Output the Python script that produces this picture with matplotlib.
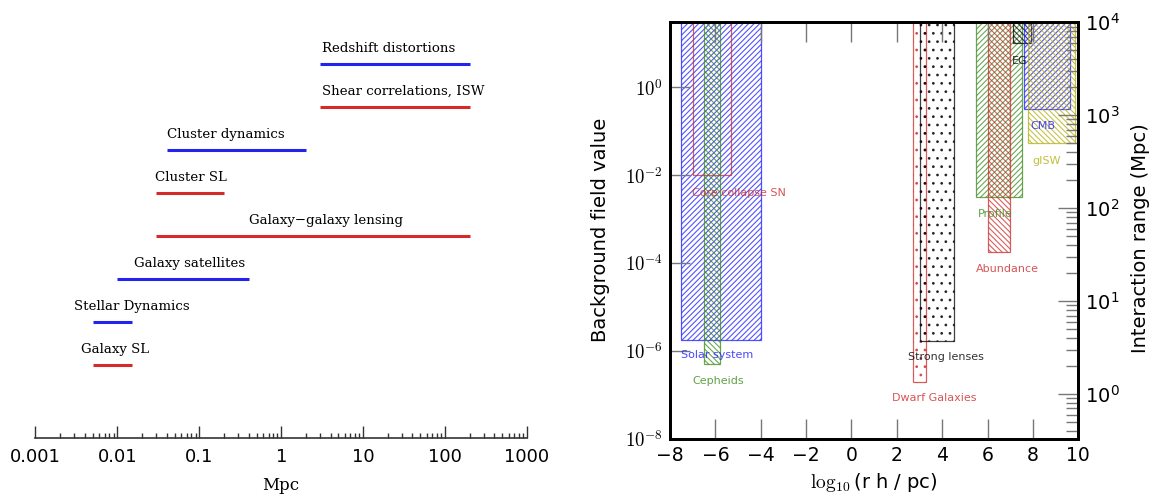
import numpy as np
import matplotlib
matplotlib.use('Agg')
import matplotlib.pyplot as plt
from matplotlib.patches import Rectangle
from matplotlib.ticker import FixedLocator, LogLocator, NullFormatter, NullLocator

# left panel: scales probed (Mpc)
probe_names = ['Galaxy SL', 'Stellar Dynamics', 'Galaxy satellites',
               'Galaxy\u2212galaxy lensing', 'Cluster SL', 'Cluster dynamics',
               'Shear correlations, ISW', 'Redshift distortions']
probe_kind = ['lensing', 'dynamics', 'dynamics', 'lensing',
              'lensing', 'dynamics', 'lensing', 'dynamics']
probe_lo = [0.005, 0.005, 0.01, 0.03, 0.03, 0.04, 3, 3]
probe_hi = [0.015, 0.015, 0.4, 200, 0.2, 2, 200, 200]
label_at = [0.0036, 0.0030, 0.016, 0.40, 0.0285, 0.040, 3.15, 3.16]
mpc_ticks = [0.001, 0.01, 0.1, 1, 10, 100, 1000]
mpc_ticklabels = ['0.001', '0.01', '0.1', '1', '10', '100', '1000']

# right panel: constraints, log10(r h / pc) range and lower field value
test_names = ['Solar system', 'Core collapse SN', 'Cepheids', 'Dwarf Galaxies',
              'Strong lenses', 'Profile', 'Abundance', 'EG', 'CMB', 'gISW']
test_x0 = [-7.5, -7.0, -6.5, 2.7, 3.0, 5.5, 6.0, 7.1, 7.6, 7.8]
test_x1 = [-4.0, -5.3, -5.8, 3.3, 4.5, 7.5, 7.0, 7.9, 9.65, 9.85]
test_logf = [-5.75, -2.0, -6.3, -6.7, -5.77, -2.5, -3.75, 1.0, -0.5, -1.26]
# where the names sit (x, log10 field)
name_x = [-7.5, -7.03, -7.03, 1.78, 2.48, 5.57, 5.48, 7.07, 7.9, 7.99]
name_logf = [-6.09, -2.4, -6.69, -7.07, -6.15, -2.88, -4.13, 0.59, -0.89, -1.67]

kind_color = {'lensing': '#d42a2a', 'dynamics': '#2323f0'}
palette = {'b': '#1a1aff', 'r': '#cc2a2a', 'g': '#3a8a1a', 'k': '#000000',
           'y': '#b4ae10'}
test_color = ['b', 'r', 'g', 'r', 'k', 'g', 'r', 'k', 'b', 'y']
fwd = '/' * 6
bwd = '\\' * 6
test_hatch = [fwd, None, bwd, '..', '..', fwd, bwd, bwd, fwd, bwd]

plt.rcParams['hatch.linewidth'] = 0.8

W, H = 1152, 494
fig = plt.figure(figsize=(W / 100, H / 100), dpi=100)

# ---- left panel ----
axl = fig.add_axes([35.4 / W, (H - 438) / H, 491.6 / W, 438 / H])
axl.set_xscale('log')
axl.set_xlim(1e-3, 1e3)
axl.set_ylim(-1.70, 8.49)
for s in ['top', 'left', 'right']:
    axl.spines[s].set_visible(False)
axl.spines['bottom'].set_linewidth(1.2)
axl.spines['bottom'].set_color('#333333')
axl.yaxis.set_major_locator(NullLocator())
axl.xaxis.set_major_locator(FixedLocator(mpc_ticks))
axl.xaxis.set_minor_locator(LogLocator(base=10, subs=np.arange(2, 10)))
axl.xaxis.set_minor_formatter(NullFormatter())
axl.set_xticklabels(mpc_ticklabels)
axl.tick_params(axis='x', which='major', direction='in', length=8.6, width=1,
                color='#333333', labelsize=13, pad=7)
axl.tick_params(axis='x', which='minor', direction='in', length=3.6, width=1,
                color='#333333')
axl.patch.set_visible(False)

for k, name in enumerate(probe_names):
    c = kind_color[probe_kind[k]]
    axl.plot([probe_lo[k], probe_hi[k]], [k, k], color=c, lw=2.2,
             solid_capstyle='butt')
    axl.text(label_at[k], k + 0.37, name, ha='left', va='center',
             fontsize=9.6, family='DejaVu Serif')

fig.text(281 / W, 1 - 485 / H, 'Mpc', ha='center', va='center',
         fontsize=12, family='DejaVu Serif')

# ---- right panel ----
ax = fig.add_axes([670 / W, (H - 438.7) / H, 408.3 / W, 416.4 / H])
ax.set_yscale('log')
ax.set_xlim(-8, 10)
ax.set_ylim(1e-8, 10 ** 1.48)

for i, name in enumerate(test_names):
    y0 = 10 ** test_logf[i]
    c = palette[test_color[i]]
    r = Rectangle((test_x0[i], y0), test_x1[i] - test_x0[i], 1e3 - y0,
                  fill=False, edgecolor=c, hatch=test_hatch[i],
                  lw=0.9, alpha=0.75)
    ax.add_patch(r)
    ax.text(name_x[i], 10 ** name_logf[i], name, color=c,
            alpha=0.8, fontsize=8, ha='left', va='center')

for s in ax.spines.values():
    s.set_linewidth(2)
ax.set_xticks(np.arange(-8, 11, 2))
ax.tick_params(axis='x', which='both', direction='in', top=True, length=14.4,
               width=1, color='#777777', labelsize=13.5, pad=5)
ax.yaxis.set_major_locator(FixedLocator([1e-8, 1e-6, 1e-4, 1e-2, 1]))
ax.yaxis.set_minor_locator(NullLocator())
ax.set_yticklabels([r'$10^{-8}$', r'$10^{-6}$', r'$10^{-4}$',
                    r'$10^{-2}$', r'$10^{0}$'])
for t in ax.get_yticklabels():
    t.set_math_fontfamily('cm')
ax.tick_params(axis='y', which='both', direction='in', length=14.4, width=1,
               color='#777777', labelsize=13.5, pad=5, right=False)

ax2 = ax.twinx()
ax2.set_yscale('log')
ax2.set_ylim(10 ** -0.48, 1e4)
ax2.yaxis.set_major_locator(LogLocator(base=10))
ax2.yaxis.set_minor_locator(LogLocator(base=10, subs=np.arange(2, 10)))
ax2.yaxis.set_minor_formatter(NullFormatter())
ax2.tick_params(axis='y', which='major', direction='in', length=14.4, width=1,
                color='#777777', labelsize=14, pad=5)
ax2.tick_params(axis='y', which='minor', direction='in', length=8.6, width=1,
                color='#777777')
for s in ax2.spines.values():
    s.set_linewidth(2)

fig.text(600 / W, 1 - 230 / H, 'Background field value', rotation=90,
         ha='center', va='center', fontsize=14)
fig.text(1141 / W, 1 - 238 / H, 'Interaction range (Mpc)', rotation=90,
         ha='center', va='center', fontsize=14)
xl = fig.text(874 / W, 1 - 482 / H, r'$\log_{10}$(r h / pc)', ha='center',
              va='center', fontsize=14)
xl.set_math_fontfamily('cm')

fig.savefig('out.png', dpi=100)
